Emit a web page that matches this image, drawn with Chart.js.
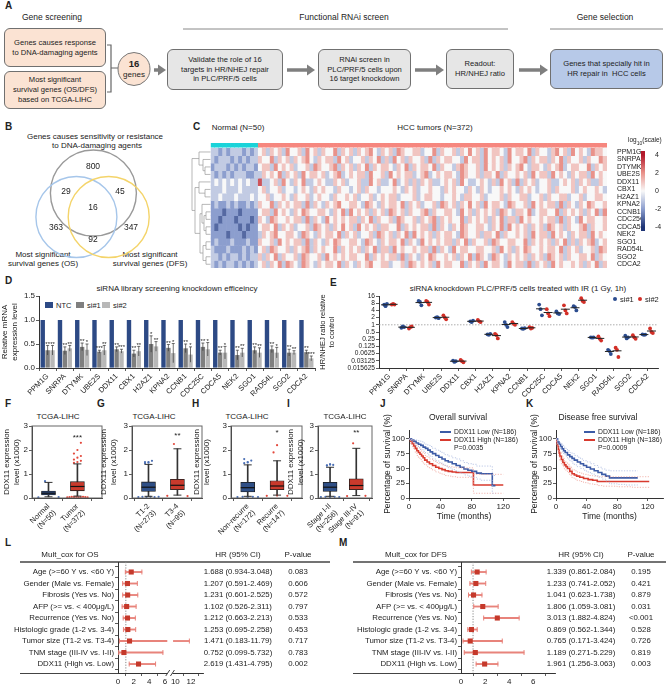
<!DOCTYPE html>
<html>
<head>
<meta charset="utf-8">
<script src="https://cdn.jsdelivr.net/npm/chart.js@4.4.1/dist/chart.umd.min.js"></script>
<style>
  body { margin: 0; background: #fff; }
  #fig { position: relative; width: 666px; height: 685px; overflow: hidden; font-family: 'Liberation Sans', Arial, sans-serif; color: #222; }
  .t { position: absolute; white-space: nowrap; line-height: 1.2; }
  .box { position: absolute; box-sizing: border-box; border: 1px solid #707070; border-radius: 6px; display: flex; align-items: center; justify-content: center; text-align: center; font-size: 7.6px; line-height: 1.3; }
  canvas { position: absolute; }
  #deco { position: absolute; left: 0; top: 0; }
</style>
</head>
<body>
<div id="fig"><svg id="deco" width="666" height="685"></svg></div>
<script>
// ---------- data ----------
const screenGenes = ['PPM1G', 'SNRPA', 'DTYMK', 'UBE2S', 'DDX11', 'CBX1', 'H2AZ1', 'KPNA2', 'CCNB1', 'CDC25C', 'CDCA5', 'NEK2', 'SGO1', 'RAD54L', 'SGO2', 'CDCA2'];

// B: venn counts (800 / 29 / 45 / 16 / 363 / 92 / 347)
const vennCounts = [800, 29, 45, 16, 363, 92, 347];

// C: heatmap, one digit per block of samples, value = digit - 4 (log10 scale)
const heatNormal = [
  '332323332323', '323332323233', '233323232332', '323232333223',
  '343434343433', '333433343333', '334333433343', '232232322323',
  '222122212222', '221222122212', '212222212122', '222212221222',
  '232223222322', '322232223232', '332323323233', '323233232323'
];
const heatTumor = [
  '45354536 44536453 54463545 35456435 45365445 53446354 45354645 36455436 45546354 43564536 45436554',
  '54463545 35456435 45536453 44535463 53645354 45363545 54436455 36454536 44563545 53546354 45354465',
  '45536454 53445365 44563545 35463545 54354635 45546354 43565445 36454535 45643554 35456345 54463545',
  '35454635 45364554 53456345 45536445 36454553 45634545 54365445 35546354 45453645 53645435 45536454',
  '73345364 35463345 43354534 45336453 34634535 35453345 45364334 54353645 36354534 45334545 35453354',
  '45344534 43454354 54435443 45354434 44543545 34454435 45443543 54344545 43545434 45354445 34544543',
  '44534454 35445345 44354454 53445345 45534445 34554434 45435544 53444535 44553445 35445534 45344554',
  '54463545 45536354 35456445 54365435 45546354 53445365 45354645 36455436 54453645 45536354 35465445',
  '45536454 35465445 54354636 45453545 36545354 45635445 54364535 45453654 35546345 54463545 45354636',
  '54365445 45536354 36454545 53546354 45365445 35456354 54463545 45354635 53645445 45536354 36455445',
  '45546354 53445365 45354645 36454535 54463545 45536354 35465445 54354636 45453545 36545354 45635445',
  '35456445 54365435 45546354 53445365 45354636 45453545 54365445 35546354 45453645 53645435 45536454',
  '54453645 45536354 35465445 54365435 45546354 36454545 53546354 45365445 54463545 45354635 35456345',
  '45365445 35456354 54463545 45354635 53645445 45536354 36455445 54453645 35465445 45546354 53445365',
  '53546354 45365445 36454545 54463545 45536354 35465445 45354636 54365435 45453545 36545354 45546354',
  '45354636 54365435 45546354 35456445 53445365 45453645 54463545 36455436 45536354 53645445 45354635'
];

// D: knockdown efficiency
const kdNTC = screenGenes.map(() => 1);
const kdSi1 = [0.37, 0.36, 0.44, 0.34, 0.39, 0.30, 0.50, 0.42, 0.41, 0.44, 0.32, 0.27, 0.37, 0.39, 0.32, 0.33];
const kdSi2 = [0.37, 0.41, 0.38, 0.37, 0.35, 0.35, 0.45, 0.31, 0.28, 0.39, 0.32, 0.32, 0.32, 0.32, 0.32, 0.20];
const kdErr1 = [0.10, 0.08, 0.08, 0.03, 0.05, 0.07, 0.17, 0.07, 0.09, 0.08, 0.05, 0.10, 0.07, 0.07, 0.07, 0.04];
const kdErr2 = [0.10, 0.06, 0.12, 0.10, 0.04, 0.10, 0.10, 0.20, 0.16, 0.14, 0.13, 0.09, 0.10, 0.11, 0.04, 0.05];
const kdStars1 = ['**', '**', '**', '***', '**', '**', '*', '**', '**', '**', '**', '**', '**', '**', '**', '**'];
const kdStars2 = ['**', '**', '*', '**', '***', '**', '**', '*', '*', '*', '*', '**', '**', '*', '**', '***'];

// E: HR/NHEJ ratio, three replicates per gene
const irSi1 = [[7, 6, 7.5], [0.75, 0.85, 0.8], [10, 9, 6.5], [2.0, 2.1, 1.9], [0.032, 0.028, 0.03], [1.4, 1.3, 1.5], [0.4, 0.38, 0.42], [1.3, 1.0, 0.8],
  [0.7, 0.68, 0.72], [7, 4.5, 2.5], [3.6, 3.0, 2.8], [6, 5.5, 4], [0.3, 0.29, 0.3], [0.09, 0.08, 0.06], [0.35, 0.27, 0.3], [0.4, 0.38, 0.39]];
const irSi2 = [[7, 7.5, 7], [0.7, 0.8, 0.85], [10, 9, 7], [2.5, 2.0, 1.7], [0.034, 0.03, 0.027], [1.6, 1.4, 1.3], [0.42, 0.37, 0.27], [1.3, 1.1, 1.0],
  [0.8, 0.7, 0.75], [4.5, 3, 2.3], [6.5, 4, 3], [13, 10, 9], [0.33, 0.26, 0.22], [0.11, 0.09, 0.045], [0.37, 0.3, 0.26], [0.7, 0.5, 0.45]];
const irTicks = [-6, -5, -4, -3, -2, -1, 0, 1, 2, 3, 4];

// F-I: DDX11 expression boxes [min, q1, median, q3, max] (x1000)
const fLabels = [['Normal', '(N=50)'], ['Tumor', '(N=372)']];
const fBox = [[0.05, 0.13, 0.2, 0.29, 0.65], [0.08, 0.3, 0.48, 0.68, 1.42]];
const fHigh = [[0.7], [1.46, 1.5, 1.55, 1.6, 1.68, 1.75, 1.85, 2.0, 2.3]];
const fLow = [[0.03, 0.04], [0.03, 0.04, 0.05, 0.04, 0.05, 0.03, 0.04, 0.05, 0.04, 0.03]];
const gLabels = [['T1-2', '(N=273)'], ['T3-4', '(N=95)']];
const gBox = [[0.07, 0.27, 0.45, 0.67, 1.4], [0.12, 0.35, 0.53, 0.78, 2.05]];
const gHigh = [[1.45, 1.5, 1.55, 1.5, 1.47], [2.25]];
const gLow = [[0.04, 0.05, 0.04, 0.05, 0.04, 0.05], [0.09, 0.08]];
const hLabels = [['Non-recurre', '(N=172)'], ['Recurre', '(N=147)']];
const hBox = [[0.07, 0.25, 0.43, 0.65, 1.38], [0.12, 0.35, 0.5, 0.72, 1.55]];
const hHigh = [[1.45, 1.5, 1.56, 1.62, 1.48], [1.9, 2.2]];
const hLow = [[0.04, 0.05, 0.04, 0.05, 0.04], [0.09, 0.1, 0.09]];
const iLabels = [['Stage I-II', '(N=256)'], ['Stage III-IV', '(N=91)']];
const iBox = [[0.07, 0.27, 0.45, 0.65, 1.28], [0.1, 0.35, 0.52, 0.8, 2.07]];
const iHigh = [[1.35, 1.4, 1.38, 1.36, 1.4], [2.28]];
const iLow = [[0.04, 0.05, 0.04, 0.05, 0.04], [0.08, 0.09]];

// J: overall survival (%)
const jTLow = [0, 3, 6, 9, 12, 15, 18, 21, 24, 27, 30, 34, 38, 42, 46, 50, 55, 60, 65, 70, 75, 80, 86, 92, 98, 103, 106, 110];
const jLow = [100, 98, 96, 93, 91, 89, 86, 84, 81, 78, 75, 72, 69, 66, 63, 61, 58, 55, 52, 49, 47, 45, 42, 41, 41, 41, 21, 21];
const jLowUp = [100, 100, 99, 98, 97, 95, 93, 91, 89, 87, 84, 81, 79, 76, 73, 71, 68, 66, 63, 60, 58, 57, 54, 54, 54, 54, 38, 38];
const jLowDn = [100, 95, 92, 88, 85, 82, 79, 76, 73, 70, 66, 63, 60, 57, 54, 51, 48, 45, 42, 39, 37, 35, 32, 30, 30, 30, 8, 8];
const jTHigh = [0, 2, 4, 6, 8, 10, 12, 14, 16, 18, 20, 23, 26, 30, 34, 38, 42, 46, 50, 55, 60, 70, 80, 82, 120];
const jHigh = [100, 96, 92, 88, 84, 80, 77, 74, 71, 68, 64, 61, 58, 55, 52, 50, 48, 46, 45, 44, 43, 43, 43, 22, 22];
const jHighUp = [100, 99, 97, 94, 91, 88, 85, 82, 79, 76, 72, 69, 66, 63, 60, 58, 56, 54, 53, 52, 51, 51, 51, 40, 40];
const jHighDn = [100, 92, 87, 82, 77, 72, 68, 65, 62, 59, 56, 53, 50, 47, 44, 42, 40, 38, 37, 36, 35, 35, 35, 8, 8];

// K: disease free survival (%)
const kTLow = [0, 2, 4, 6, 8, 10, 12, 15, 18, 21, 24, 28, 32, 36, 40, 45, 50, 55, 60, 65, 70, 80, 90, 100, 107];
const kLow = [100, 95, 91, 87, 83, 80, 77, 73, 70, 67, 64, 61, 58, 55, 52, 49, 46, 43, 40, 37, 34, 34, 34, 34, 34];
const kLowUp = [100, 98, 95, 92, 89, 86, 84, 80, 77, 75, 72, 69, 66, 63, 61, 58, 55, 52, 49, 47, 46, 46, 46, 46, 46];
const kLowDn = [100, 91, 87, 82, 78, 74, 71, 66, 63, 59, 56, 53, 50, 47, 44, 41, 38, 35, 32, 29, 24, 23, 22, 22, 22];
const kTHigh = [0, 1, 2, 3, 4, 5, 7, 9, 11, 13, 15, 18, 21, 24, 27, 31, 36, 42, 48, 54, 60, 80, 100, 122];
const kHigh = [100, 94, 88, 82, 76, 71, 65, 60, 56, 53, 50, 45, 41, 39, 37, 35, 33, 31, 30, 28, 28, 28, 28, 28];
const kHighUp = [100, 98, 93, 88, 83, 78, 72, 67, 63, 60, 57, 52, 48, 46, 44, 42, 40, 38, 37, 36, 36, 36, 36, 36];
const kHighDn = [100, 90, 83, 76, 70, 64, 58, 53, 49, 46, 43, 38, 34, 32, 30, 28, 26, 24, 23, 21, 20, 19, 18, 18];

// L / M: multivariate cox
const coxFactors = ['Age (>=60 Y vs. <60 Y)', 'Gender (Male vs. Female)', 'Fibrosis (Yes vs. No)', 'AFP (>= vs. < 400\u03bcg/L)', 'Recurrence (Yes vs. No)',
  'Histologic grade (1-2 vs. 3-4)', 'Tumor size (T1-2 vs. T3-4)', 'TNM stage (III-IV vs. I-II)', 'DDX11 (High vs. Low)'];
const osHR = [1.688, 1.207, 1.231, 1.102, 1.212, 1.253, 1.471, 0.752, 2.619];
const osLo = [0.934, 0.591, 0.601, 0.526, 0.663, 0.695, 0.183, 0.099, 1.431];
const osHi = [3.048, 2.469, 2.525, 2.311, 2.213, 2.258, 11.79, 5.732, 4.795];
const osP = ['0.083', '0.606', '0.572', '0.797', '0.533', '0.453', '0.717', '0.783', '0.002'];
const dfsHR = [1.339, 1.233, 1.041, 1.806, 3.013, 0.869, 0.765, 1.189, 1.961];
const dfsLo = [0.861, 0.741, 0.623, 1.059, 1.882, 0.562, 0.171, 0.271, 1.256];
const dfsHi = [2.084, 2.052, 1.738, 3.081, 4.824, 1.344, 3.424, 5.229, 3.063];
const dfsP = ['0.195', '0.421', '0.879', '0.031', '<0.001', '0.528', '0.726', '0.819', '0.003'];

// ---------- helpers ----------
Chart.defaults.font.family = "'Liberation Sans', Arial, sans-serif";
Chart.defaults.font.size = 7.5;
Chart.defaults.color = '#222';
Chart.defaults.animation = false;
Chart.defaults.responsive = false;
Chart.defaults.layout.autoPadding = false;
Chart.defaults.plugins.legend.display = false;
Chart.defaults.plugins.tooltip.enabled = false;

const fig = document.getElementById('fig');
const svg = document.getElementById('deco');
const NS = 'http://www.w3.org/2000/svg';

function makeCanvas(left, top, w, h) {
  const c = document.createElement('canvas');
  c.width = w; c.height = h;
  c.style.left = left + 'px'; c.style.top = top + 'px';
  c.style.width = w + 'px'; c.style.height = h + 'px';
  fig.appendChild(c);
  return c;
}
function txt(s, x, y, o = {}) {
  const d = document.createElement('div');
  d.className = 't';
  d.innerHTML = s;
  const a = o.align || 'center';
  const tx = a === 'center' ? '-50%' : a === 'right' ? '-100%' : '0';
  d.style.left = x + 'px'; d.style.top = y + 'px';
  d.style.fontSize = (o.size || 8) + 'px';
  d.style.fontWeight = o.bold ? '700' : '400';
  d.style.textAlign = a;
  d.style.transform = `translate(${tx},-50%)`;
  fig.appendChild(d);
  return d;
}
function sv(tag, attrs) {
  const e = document.createElementNS(NS, tag);
  for (const k in attrs) e.setAttribute(k, attrs[k]);
  svg.appendChild(e);
  return e;
}
function line(x1, y1, x2, y2, stroke = '#444', w = 1) {
  return sv('line', { x1, y1, x2, y2, stroke, 'stroke-width': w });
}
function arrow(x1, x2, y) {
  line(x1, y, x2 - 6, y, '#7f7f7f', 3.5);
  sv('polygon', { points: `${x2 - 8},${y - 5.5} ${x2},${y} ${x2 - 8},${y + 5.5}`, fill: '#7f7f7f' });
}
function box(html, l, t, w, h, bg) {
  const d = document.createElement('div');
  d.className = 'box';
  d.style.cssText += `left:${l}px;top:${t}px;width:${w}px;height:${h}px;background:${bg};`;
  d.innerHTML = html;
  fig.appendChild(d);
}
function ax(o) {
  const base = {
    grid: { drawOnChartArea: false, tickLength: 3, color: '#333', lineWidth: 0.8 },
    border: { color: '#333', width: 1 },
    ticks: { padding: 1, color: '#222' }
  };
  const out = Object.assign({}, base, o);
  out.ticks = Object.assign({}, base.ticks, o.ticks || {});
  return out;
}
const setTicks = vals => s => { s.ticks = vals.map(v => ({ value: v })); };

// panel letters
[['A', 5, 6], ['B', 5, 127], ['C', 193, 127], ['D', 5, 281], ['E', 330, 283], ['F', 5, 404], ['G', 97, 404], ['H', 192, 404],
 ['I', 287, 404], ['J', 380, 404], ['K', 526, 404], ['L', 5, 543], ['M', 339, 543]].forEach(([s, x, y]) => txt(s, x, y, { bold: true, size: 10, align: 'left' }));

// ---------- A: flow chart ----------
txt('Gene screening', 52, 17, { size: 8.5 });
txt('Functional RNAi screen', 344, 17, { size: 8.5 });
txt('Gene selection', 605, 17, { size: 8.5 });
line(183, 29, 508, 29, '#888', 1);
line(550, 29, 663, 29, '#888', 1);
box('Genes causes response<br>to DNA-damaging agents', 4, 28, 102, 39, '#fbe3d3');
box('Most significant<br>survival genes (OS/DFS)<br>based on TCGA-LIHC', 4, 71, 102, 38, '#fbe3d3');
sv('path', { d: 'M107,45 H111 V92 H107 M111,68 H118', stroke: '#666', 'stroke-width': 1.2, fill: 'none' });
sv('ellipse', { cx: 134, cy: 69, rx: 16, ry: 16.5, fill: '#fbe3d3', stroke: '#777', 'stroke-width': 1 });
txt('<b style="font-size:9.5px">16</b><br>genes', 134, 69, { size: 8 });
arrow(154, 166, 70);
box('Validate the role of 16<br>targets in HR/NHEJ repair<br>in PLC/PRF/5 cells', 167, 49, 116, 41, '#e6e6e6');
arrow(287, 315, 70);
box('RNAi screen in<br>PLC/PRF/5 cells upon<br>16 target knockdown', 318, 49, 93, 41, '#e6e6e6');
arrow(415, 444, 70);
box('Readout:<br>HR/NHEJ ratio', 446, 49, 68, 40, '#e6e6e6');
arrow(519, 548, 70);
box('Genes that specially hit in<br>HR repair in&nbsp; HCC cells', 550, 49, 113, 40, '#b7c9e8');

// ---------- B: venn ----------
txt('Genes causes sensitivity or resistance', 95, 137, { size: 8 });
txt('to DNA-damaging agents', 97, 146, { size: 8 });
txt('Most significant', 43, 255, { size: 8 });
txt('survival genes (OS)', 43, 264, { size: 8 });
txt('Most significant', 150, 255, { size: 8 });
txt('survival genes (DFS)', 150, 264, { size: 8 });
const vennCircles = [{ x: 93.4, y: 193, r: 43 }, { x: 76.4, y: 217, r: 40.5 }, { x: 108.7, y: 217, r: 40.5 }];
const vennColors = ['#9a9a9a', '#a6c6ea', '#f4d46a'];
const vennSpots = [[93, 167], [66, 192], [120, 192], [93, 208], [56, 228], [93, 240], [131, 228]];
new Chart(makeCanvas(0, 140, 190, 140), {
  type: 'bubble',
  data: { datasets: [{ data: vennCircles, backgroundColor: 'rgba(0,0,0,0)', borderColor: vennColors, borderWidth: 1.4, clip: false }] },
  options: {
    layout: { padding: 0, autoPadding: false },
    scales: { x: { display: false, min: 0, max: 190 }, y: { display: false, min: 140, max: 280, reverse: true } }
  },
  plugins: [{
    id: 'vennCounts',
    afterDatasetsDraw(chart) {
      const { ctx, scales } = chart;
      ctx.save();
      ctx.font = "8.5px 'Liberation Sans'"; ctx.fillStyle = '#222'; ctx.textAlign = 'center'; ctx.textBaseline = 'middle';
      vennCounts.forEach((n, i) => ctx.fillText(String(n), scales.x.getPixelForValue(vennSpots[i][0]), scales.y.getPixelForValue(vennSpots[i][1])));
      ctx.restore();
    }
  }]
});

// ---------- C: heatmap ----------
txt('Normal (N=50)', 238, 128, { size: 8 });
txt('HCC tumors (N=372)', 435, 128, { size: 8 });
const nNormal = 12, nCols = 100;
const heatStops = [[-4, [30, 52, 118]], [-2, [140, 158, 206]], [0, [248, 248, 248]], [2, [233, 146, 138]], [4, [178, 24, 43]]];
function heatColor(v) {
  v = Math.max(-4, Math.min(4, v));
  for (let k = 0; k < 4; k++) {
    const [a, ca] = heatStops[k], [b, cb] = heatStops[k + 1];
    if (v <= b) {
      const t = (v - a) / (b - a);
      return `rgb(${ca.map((c, j) => Math.round(c + (cb[j] - c) * t)).join(',')})`;
    }
  }
}
const heatRows = screenGenes.map((g, r) => {
  const s = (heatNormal[r] + heatTumor[r]).replace(/\s/g, '');
  return Array.from({ length: nCols }, (_, i) => +(s[i] || '4') - 4);
});
const colIdx = Array.from({ length: nCols }, (_, i) => i);
const heatSets = [
  { data: colIdx.map(() => 0.55), backgroundColor: colIdx.map(i => i < nNormal ? '#19d3d9' : '#f6877f') },
  { data: colIdx.map(() => 0.15), backgroundColor: 'rgba(0,0,0,0)' }
].concat(heatRows.map(row => ({ data: row.map(() => 1), backgroundColor: row.map(heatColor) })));
heatSets.forEach(d => Object.assign(d, { stack: 'h', barPercentage: 1, categoryPercentage: 1, borderWidth: 0 }));
new Chart(makeCanvas(190, 135, 476, 140), {
  type: 'bar',
  data: { labels: colIdx, datasets: heatSets },
  options: {
    layout: { padding: { left: 20.7, top: 8, right: 14, bottom: 7 } },
    scales: {
      x: { display: false, stacked: true },
      y: {
        stacked: true, position: 'right', reverse: true, min: 0, max: 16.7,
        grid: { display: false }, border: { display: false },
        afterBuildTicks: setTicks(screenGenes.map((g, i) => 1.2 + i)),
        ticks: { font: { size: 7 }, padding: 2, autoSkip: false, callback: (v, i) => screenGenes[i] },
        afterFit: s => { s.width = 45; }
      }
    }
  }
});
// dendrogram
const rowY = i => 143 + (0.7 + i + 0.5) * 7.485;
function node(h, a, b) { return { h, a, b }; }
const dendro = node(192, node(199, 0, node(203, 1, node(205, 2, 3))),
  node(195, node(199, 4, node(205, 5, 6)),
    node(200, node(202, 7, node(204, node(206, 8, 9), node(206, 10, 11))), node(203, node(206, 12, 13), node(206, 14, 15)))));
function drawTree(n) {
  if (typeof n === 'number') return { x: 210.5, y: rowY(n) };
  const a = drawTree(n.a), b = drawTree(n.b);
  line(n.h, a.y, a.x, a.y, '#999', 0.7);
  line(n.h, b.y, b.x, b.y, '#999', 0.7);
  line(n.h, a.y, n.h, b.y, '#999', 0.7);
  return { x: n.h, y: (a.y + b.y) / 2 };
}
drawTree(dendro);
// colour bar
txt('log<sub style="font-size:5px">10</sub>(scale)', 628, 141, { size: 6.5, align: 'left' });
new Chart(makeCanvas(625, 140, 41, 100), {
  type: 'bar',
  data: {
    labels: [''], datasets: [{
      data: [[-4.45, 4.45]], barPercentage: 1, categoryPercentage: 1, borderWidth: 0,
      backgroundColor: c => {
        const a = c.chart.chartArea;
        if (!a) return '#fff';
        const g = c.chart.ctx.createLinearGradient(0, a.bottom, 0, a.top);
        heatStops.forEach(([v, col]) => g.addColorStop((v + 4.45) / 8.9, `rgb(${col.join(',')})`));
        return g;
      }
    }]
  },
  options: {
    layout: { padding: { left: 16, top: 11, right: 3, bottom: 9 } },
    scales: {
      x: { display: false },
      y: {
        position: 'right', min: -4.45, max: 4.45, grid: { display: false }, border: { display: false },
        afterBuildTicks: setTicks([-4, -2, 0, 2, 4]), ticks: { font: { size: 7 }, padding: 2 },
        afterFit: s => { s.width = 18; }
      }
    }
  }
});

// ---------- D: knockdown bars ----------
txt('siRNA library screening knockdown efficeincy', 177, 289, { size: 8 });
[['NTC', '#2d4a85', 45], ['si#1', '#7f7f7f', 76], ['si#2', '#b8b8b8', 102]].forEach(([s, c, x]) => {
  const sq = document.createElement('div');
  sq.style.cssText = `position:absolute;left:${x}px;top:302px;width:8px;height:6px;background:${c};`;
  fig.appendChild(sq);
  txt(s, x + 11, 305, { size: 7.5, align: 'left' });
});
const kdErrPlugin = {
  id: 'kdErr',
  afterDatasetsDraw(chart) {
    const ctx = chart.ctx, y = chart.scales.y;
    chart.data.datasets.forEach((ds, di) => {
      if (!ds.err) return;
      chart.getDatasetMeta(di).data.forEach((bar, i) => {
        const v = ds.data[i], e = ds.err[i];
        const yt = y.getPixelForValue(v + e), yb = y.getPixelForValue(Math.max(0, v - e));
        ctx.save();
        ctx.strokeStyle = '#333'; ctx.lineWidth = 0.7;
        ctx.beginPath();
        ctx.moveTo(bar.x, yt); ctx.lineTo(bar.x, yb);
        ctx.moveTo(bar.x - 1.5, yt); ctx.lineTo(bar.x + 1.5, yt);
        ctx.stroke();
        ctx.fillStyle = '#222'; ctx.font = "6px 'Liberation Sans'"; ctx.textAlign = 'center'; ctx.textBaseline = 'bottom';
        ctx.fillText(ds.stars[i], bar.x, yt + 1.5);
        ctx.restore();
      });
    });
  }
};
new Chart(makeCanvas(0, 283, 330, 122), {
  type: 'bar',
  data: {
    labels: screenGenes,
    datasets: [
      { data: kdNTC, backgroundColor: '#2d4a85' },
      { data: kdSi1, err: kdErr1, stars: kdStars1, backgroundColor: '#7f7f7f' },
      { data: kdSi2, err: kdErr2, stars: kdStars2, backgroundColor: '#b8b8b8' }
    ]
  },
  options: {
    layout: { padding: { left: 0, top: 13, right: 15, bottom: 0 } },
    datasets: { bar: { categoryPercentage: 0.85, barPercentage: 0.9 } },
    scales: {
      x: ax({ ticks: { maxRotation: 45, minRotation: 45, autoSkip: false, font: { size: 7.5 } }, afterFit: s => { s.height = 37; } }),
      y: ax({
        min: 0, max: 1.5, afterBuildTicks: setTicks([0, 0.5, 1, 1.5]),
        ticks: { font: { size: 8 }, callback: v => v.toFixed(1) },
        title: { display: true, text: ['Relative mRNA', 'expression level'], font: { size: 8 }, padding: 0 },
        afterFit: s => { s.width = 39; }
      })
    }
  },
  plugins: [kdErrPlugin]
});

// ---------- E: HR/NHEJ ratio ----------
txt('siRNA knockdown PLC/PRF/5 cells treated with IR (1 Gy, 1h)', 518, 289, { size: 8 });
[['#2b4c8f', 'si#1', 615], ['#d22f27', 'si#2', 640]].forEach(([c, s, x]) => {
  const dt = document.createElement('div');
  dt.style.cssText = `position:absolute;left:${x - 2}px;top:297px;width:4px;height:4px;border-radius:50%;background:${c};`;
  fig.appendChild(dt);
  txt(s, x + 5, 299, { size: 7.5, align: 'left' });
});
const irPts = (reps, shift) => reps.flatMap((r, i) => r.map((v, j) => ({ x: i + shift + (j - 1) * 0.08, y: Math.log2(v) })));
const irMean = (reps, shift) => reps.map((r, i) => ({ x: i + shift, y: Math.log2(r.reduce((a, b) => a + b, 0) / r.length) }));
new Chart(makeCanvas(318, 283, 348, 122), {
  type: 'scatter',
  data: {
    datasets: [
      { data: irMean(irSi1, -0.22), pointStyle: 'line', pointRadius: 4.5, borderColor: '#222', borderWidth: 1 },
      { data: irMean(irSi2, 0.22), pointStyle: 'line', pointRadius: 4.5, borderColor: '#222', borderWidth: 1 },
      { data: irPts(irSi1, -0.22), pointRadius: 1.9, backgroundColor: '#2b4c8f', borderWidth: 0 },
      { data: irPts(irSi2, 0.22), pointRadius: 1.9, backgroundColor: '#d22f27', borderWidth: 0 }
    ]
  },
  options: {
    layout: { padding: { left: 0, top: 13, right: 8, bottom: 0 } },
    scales: {
      x: ax({
        type: 'linear', min: -0.6, max: 15.6, afterBuildTicks: setTicks(screenGenes.map((g, i) => i)),
        ticks: { autoSkip: false, maxRotation: 45, minRotation: 45, font: { size: 7.5 }, callback: (v, i) => screenGenes[i] },
        afterFit: s => { s.height = 37; }
      }),
      y: ax({
        min: -6, max: 4, afterBuildTicks: setTicks(irTicks),
        ticks: { autoSkip: false, font: { size: 6.6 }, padding: 1, callback: v => String(Math.pow(2, v)) },
        title: { display: true, text: ['HR/NHEJ ratio relative', 'to control'], font: { size: 7.5 }, padding: 0 },
        afterFit: s => { s.width = 61; }
      })
    }
  },
  plugins: [{
    id: 'oneLine',
    beforeDatasetsDraw(chart) {
      const { ctx, chartArea: a } = chart;
      const y = chart.scales.y.getPixelForValue(0);
      ctx.save(); ctx.strokeStyle = '#999'; ctx.lineWidth = 0.8; ctx.setLineDash([1.5, 1.5]);
      ctx.beginPath(); ctx.moveTo(a.left, y); ctx.lineTo(a.right, y); ctx.stroke(); ctx.restore();
    }
  }]
});

// ---------- F-I: box plots ----------
const framePlugin = {
  id: 'frame',
  afterDraw(chart) {
    const { ctx, chartArea: a } = chart;
    ctx.save(); ctx.strokeStyle = '#666'; ctx.lineWidth = 1; ctx.strokeRect(a.left, a.top, a.right - a.left, a.bottom - a.top); ctx.restore();
  }
};
function boxPanel(p) {
  const fill = ['#2f4f86', '#c93a2c'], dot = ['#4a6fb5', '#e3483c'];
  const datasets = [
    { type: 'bar', data: p.stats.map((s, i) => ({ x: i, y: [s[0], s[4]] })), backgroundColor: '#333', barThickness: 1, grouped: false, order: 5 },
    { type: 'bar', data: p.stats.map((s, i) => ({ x: i, y: [s[1], s[3]] })), backgroundColor: fill, borderColor: '#1d1d1d', borderWidth: 0.8, borderSkipped: false, barThickness: 14, grouped: false, order: 4 },
    { type: 'scatter', data: p.stats.map((s, i) => ({ x: i, y: s[2] })), pointStyle: 'line', pointRadius: 7, borderColor: '#111', borderWidth: 1.2, order: 1 },
    { type: 'scatter', data: p.stats.flatMap((s, i) => [{ x: i, y: s[0] }, { x: i, y: s[4] }]), pointStyle: 'line', pointRadius: 4, borderColor: '#333', borderWidth: 1, order: 2 }
  ];
  p.high.forEach((arr, g) => datasets.push({ type: 'scatter', data: arr.map((v, k) => ({ x: g + ((k % 3) - 1) * 0.12, y: v })), pointRadius: 1.1, backgroundColor: dot[g], borderWidth: 0, order: 3 }));
  p.low.forEach((arr, g) => datasets.push({ type: 'scatter', data: arr.map((v, k) => ({ x: g + (arr.length > 1 ? (k / (arr.length - 1) - 0.5) * 0.7 : 0), y: v })), pointRadius: 1.1, backgroundColor: dot[g], borderWidth: 0, order: 3 }));
  new Chart(makeCanvas(p.left, 400, p.w, 140), {
    type: 'bar',
    data: { datasets },
    options: {
      layout: { padding: { left: p.padL, top: 26, right: p.w - p.right, bottom: 0 } },
      scales: {
        x: ax({
          type: 'linear', min: p.min, max: p.max, offset: false, afterBuildTicks: setTicks([0, 1]),
          ticks: { autoSkip: false, maxRotation: 45, minRotation: 45, font: { size: 7.5 }, callback: (v, i) => p.labels[i] },
          afterFit: s => { s.height = 42; }
        }),
        y: ax({
          min: 0, max: 3, afterBuildTicks: setTicks([0, 1, 2, 3]), ticks: { font: { size: 8 } },
          title: { display: true, text: ['DDX11 expression', 'level (x1000)'], font: { size: 8 }, padding: 0 },
          afterFit: s => { s.width = p.axW; }
        })
      }
    },
    plugins: [framePlugin, {
      id: 'stars',
      afterDraw(chart) {
        const { ctx, scales } = chart;
        ctx.save(); ctx.font = "8px 'Liberation Sans'"; ctx.fillStyle = '#222'; ctx.textAlign = 'center'; ctx.textBaseline = 'middle';
        ctx.fillText(p.star, scales.x.getPixelForValue(1), scales.y.getPixelForValue(p.starY));
        ctx.restore();
      }
    }]
  });
}
txt('TCGA-LIHC', 58, 417, { size: 8 });
txt('TCGA-LIHC', 154, 417, { size: 8 });
txt('TCGA-LIHC', 247, 417, { size: 8 });
txt('TCGA-LIHC', 345, 417, { size: 8 });
boxPanel({ left: 0, w: 112, padL: 2, axW: 30, right: 102, min: -0.57, max: 1.85, stats: fBox, high: fHigh, low: fLow, labels: fLabels, star: '***', starY: 2.5 });
boxPanel({ left: 97, w: 110, padL: 2, axW: 33, right: 105, min: -0.57, max: 1.85, stats: gBox, high: gHigh, low: gLow, labels: gLabels, star: '**', starY: 2.6 });
boxPanel({ left: 192, w: 112, padL: 0, axW: 39, right: 110, min: -0.57, max: 1.85, stats: hBox, high: hHigh, low: hLow, labels: hLabels, star: '*', starY: 2.7 });
boxPanel({ left: 285, w: 90, padL: 1, axW: 32, right: 87, min: -0.46, max: 1.6, stats: iBox, high: iHigh, low: iLow, labels: iLabels, star: '**', starY: 2.7 });

// ---------- J / K: survival ----------
function kmPanel(p) {
  const pts = (t, s) => t.map((x, i) => ({ x, y: s[i] }));
  const ln = (t, s, c, w, dash) => ({ data: pts(t, s), borderColor: c, borderWidth: w, borderDash: dash, stepped: true, pointRadius: 0, fill: false });
  new Chart(makeCanvas(p.left, 400, p.w, 140), {
    type: 'line',
    data: {
      datasets: [
        ln(p.tLow, p.lowUp, '#a9b9df', 0.8, [1.2, 1.5]), ln(p.tLow, p.lowDn, '#a9b9df', 0.8, [1.2, 1.5]),
        ln(p.tHigh, p.highUp, '#efa49c', 0.8, [1.2, 1.5]), ln(p.tHigh, p.highDn, '#efa49c', 0.8, [1.2, 1.5]),
        ln(p.tLow, p.low, '#3c5ba6', 1.6, []), ln(p.tHigh, p.high, '#d83a2e', 1.6, [])
      ]
    },
    options: {
      layout: { padding: { left: p.padL, top: 30, right: p.w - p.right, bottom: 18 } },
      scales: {
        x: ax({
          type: 'linear', min: 0, max: 140, afterBuildTicks: setTicks([0, 40, 80, 120]), ticks: { font: { size: 8 } },
          title: { display: true, text: 'Time (months)', font: { size: 8.5 }, padding: { top: 1, bottom: 0 } },
          afterFit: s => { s.height = 24; }
        }),
        y: ax({
          min: 0, max: 115, afterBuildTicks: setTicks([0, 25, 50, 75, 100]), ticks: { font: { size: 8 } },
          title: { display: true, text: 'Percentage of survival (%)', font: { size: 8.5 }, padding: 0 },
          afterFit: s => { s.width = p.axW; }
        })
      }
    }
  });
  [['#3c5ba6', 'DDX11 Low (N=186)', 432], ['#d83a2e', 'DDX11 High (N=186)', 440]].forEach(([c, s, y]) => {
    const l = document.createElement('div');
    l.style.cssText = `position:absolute;left:${p.legX}px;top:${y - 1}px;width:11px;height:2px;background:${c};`;
    fig.appendChild(l);
    txt(s, p.legX + 14, y, { size: 6.8, align: 'left' });
  });
  txt(p.pval, p.legX + 14, 448, { size: 6.8, align: 'left' });
}
txt('Overall survival', 458, 417, { size: 8.5 });
txt('Disease free survival', 598, 417, { size: 8.5 });
kmPanel({ left: 375, w: 150, padL: 8, axW: 26, right: 144, tLow: jTLow, low: jLow, lowUp: jLowUp, lowDn: jLowDn, tHigh: jTHigh, high: jHigh, highUp: jHighUp, highDn: jHighDn, legX: 440, pval: 'P=0.0035' });
kmPanel({ left: 520, w: 146, padL: 10, axW: 26, right: 143, tLow: kTLow, low: kLow, lowUp: kLowUp, lowDn: kLowDn, tHigh: kTHigh, high: kHigh, highUp: kHighUp, highDn: kHighDn, legX: 584, pval: 'P=0.0009' });

// ---------- L / M: forest plots ----------
function forestPanel(p) {
  const disp = p.brk ? (v => v <= 6.3 ? v : 7.32 + (v - 10)) : (v => v);
  const segs = [], caps = [];
  p.hr.forEach((h, i) => {
    const lo = p.lo[i], hi = p.hi[i];
    if (p.brk && hi > 6.3) segs.push({ y: i, x: [lo, 6.25] }, { y: i, x: [disp(9.75), disp(hi)] });
    else segs.push({ y: i, x: [lo, hi] });
    caps.push({ x: lo, y: i }, { x: disp(hi), y: i });
  });
  const fmt = v => v >= 10 ? v.toFixed(2) : v.toFixed(3);
  new Chart(makeCanvas(p.left, 538, 333, 147), {
    type: 'bar',
    data: {
      datasets: [
        { type: 'scatter', data: p.hr.map((h, i) => ({ x: h, y: i })), pointStyle: 'rect', pointRadius: 3.6, backgroundColor: '#c5392b', borderWidth: 0, order: 0 },
        { type: 'scatter', data: caps, pointStyle: 'line', pointRotation: 90, pointRadius: 2.5, borderColor: '#e8837b', borderWidth: 1, order: 1 },
        { type: 'bar', indexAxis: 'y', data: segs, backgroundColor: '#e8837b', barThickness: 1.2, grouped: false, order: 2 }
      ]
    },
    options: {
      layout: { padding: { left: 0, top: 24, right: 333 - p.right, bottom: 0 } },
      scales: {
        x: ax({
          type: 'linear', min: 0, max: p.xMax, offset: false, afterBuildTicks: setTicks(p.tickVals),
          ticks: { font: { size: 8 }, callback: (v, i) => p.tickLabels[i] },
          afterFit: s => { s.height = 12; }
        }),
        y: ax({
          type: 'linear', reverse: true, min: -0.87, max: 8.78, offset: false, afterBuildTicks: setTicks(coxFactors.map((f, i) => i)),
          ticks: { font: { size: 7.8 }, padding: 1, autoSkip: false, callback: (v, i) => coxFactors[i] },
          afterFit: s => { s.width = p.chartL; }
        })
      }
    },
    plugins: [{
      id: 'forestText',
      beforeDatasetsDraw(chart) {
        const { ctx, chartArea: a, scales } = chart;
        const x1 = scales.x.getPixelForValue(1);
        ctx.save(); ctx.strokeStyle = '#888'; ctx.lineWidth = 1; ctx.setLineDash([1.2, 1.5]);
        ctx.beginPath(); ctx.moveTo(x1, a.top); ctx.lineTo(x1, a.bottom); ctx.stroke(); ctx.restore();
      },
      afterDraw(chart) {
        const { ctx, chartArea: a, scales } = chart;
        ctx.save();
        ctx.strokeStyle = '#444'; ctx.lineWidth = 1;
        ctx.beginPath(); ctx.moveTo(p.lineFrom, a.bottom + 0.5); ctx.lineTo(a.left, a.bottom + 0.5); ctx.stroke();
        if (p.brk) {
          const b1 = scales.x.getPixelForValue(6.35), b2 = scales.x.getPixelForValue(6.95);
          ctx.fillStyle = '#fff'; ctx.fillRect(b1, a.bottom - 2, b2 - b1, 5);
          ctx.beginPath();
          ctx.moveTo(b1 - 2, a.bottom + 3); ctx.lineTo(b1 + 2, a.bottom - 3);
          ctx.moveTo(b2 - 2, a.bottom + 3); ctx.lineTo(b2 + 2, a.bottom - 3);
          ctx.stroke();
        }
        ctx.fillStyle = '#222'; ctx.font = "7.8px 'Liberation Sans'"; ctx.textAlign = 'center'; ctx.textBaseline = 'middle';
        p.hr.forEach((h, i) => {
          const y = scales.y.getPixelForValue(i);
          ctx.fillText(`${h.toFixed(3)} (${p.lo[i].toFixed(3)}-${fmt(p.hi[i])})`, p.hrX, y);
          ctx.fillText(p.pv[i], p.pX, y);
        });
        ctx.restore();
      }
    }]
  });
}
txt('Mult_cox for OS', 70, 555, { size: 8 });
txt('HR (95% CI)', 238, 555, { size: 8 });
txt('P-value', 298, 555, { size: 8 });
line(20, 562, 330, 562, '#444', 1.3);
txt('Mult_cox for DFS', 416, 555, { size: 8 });
txt('HR (95% CI)', 581, 555, { size: 8 });
txt('P-value', 641, 555, { size: 8 });
line(353, 562, 666, 562, '#444', 1.3);
forestPanel({ left: 0, chartL: 118, right: 203, xMax: 10.85, brk: true, tickVals: [0, 2, 4, 6, 7.32, 9.32], tickLabels: ['0', '2', '4', '6', '10', '12'],
  hr: osHR, lo: osLo, hi: osHi, pv: osP, hrX: 238, pX: 298, lineFrom: 20 });
forestPanel({ left: 333, chartL: 128, right: 222, xMax: 7.8, brk: false, tickVals: [0, 2, 4, 6], tickLabels: ['0', '2', '4', '6'],
  hr: dfsHR, lo: dfsLo, hi: dfsHi, pv: dfsP, hrX: 248, pX: 308, lineFrom: 20 });
</script>
</body>
</html>
